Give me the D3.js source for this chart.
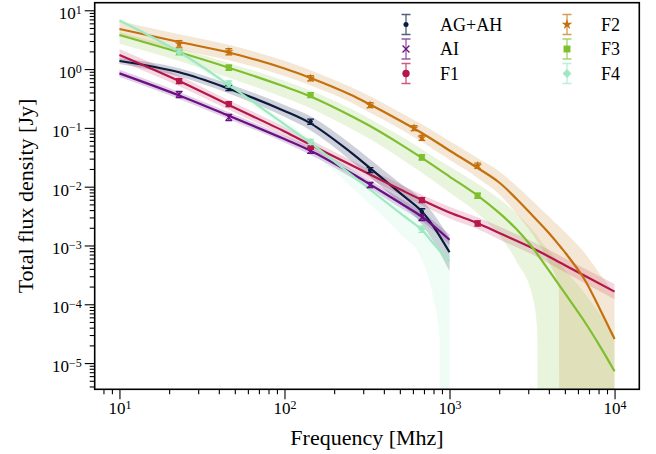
<!DOCTYPE html>
<html><head><meta charset="utf-8">
<script src="https://cdn.jsdelivr.net/npm/d3@7"></script>
<style>body{margin:0;background:#fff}svg{display:block}</style>
</head><body>
<svg id="c" width="656" height="454"></svg>
<script>
// ---------- data (frequency in MHz, flux density in Jy) ----------
const seriesNames  = ["AG+AH","AI","F1","F2","F3","F4"];
const seriesColors = ["#0c1a40","#6a0f84","#b5164b","#c4700c","#7dbf2e","#9deac2"];

// fitted model lines (+ confidence band half-widths in dex)
const lineFreqAGAH = [10,23,46,100,144,250,330,500,680,800,1000];
const lineFluxAGAH = [1.373,0.882,0.464,0.1945,0.1193,0.0392,0.0207,0.00782,0.00380,0.00209,0.000766];
const bandUpAGAH   = [0.05,0.07,0.08,0.10,0.12,0.14,0.15,0.17,0.20,0.22,0.24];
const bandDownAGAH = [0.05,0.07,0.08,0.10,0.12,0.14,0.15,0.17,0.22,0.26,0.32];

const lineFreqAI = [10,23,46,100,144,250,330,500,680,1000];
const lineFluxAI = [0.845,0.356,0.1607,0.0646,0.0408,0.0174,0.01094,0.00532,0.00309,0.00125];
const bandUpAI   = [0.06,0.06,0.06,0.06,0.07,0.07,0.07,0.08,0.08,0.09];
const bandDownAI = [0.06,0.06,0.06,0.06,0.07,0.07,0.07,0.08,0.08,0.09];

const lineFreqF1 = [10,23,46,100,144,250,330,500,680,1000,1480,2000,3200,5100,10000];
const lineFluxF1 = [1.74,0.628,0.245,0.0871,0.0516,0.0239,0.0161,0.00904,0.00594,0.00363,0.00239,0.00163,0.000895,0.000448,0.000164];
const bandUpF1   = [0.10,0.09,0.08,0.08,0.08,0.08,0.08,0.09,0.09,0.10,0.10,0.11,0.11,0.12,0.13];
const bandDownF1 = [0.10,0.09,0.08,0.08,0.08,0.08,0.08,0.09,0.09,0.10,0.10,0.11,0.11,0.12,0.13];

const lineFreqF2 = [10,23,46,100,144,250,330,500,680,1000,1480,2000,2550,3200,4000,4600,4700,5100,6500,8200,10000];
const lineFluxF2 = [4.81,2.89,1.915,1.024,0.706,0.370,0.250,0.1337,0.0818,0.0413,0.0208,0.01178,0.00618,0.00318,0.00163,0.001023,0.000950,0.000716,0.000280,8.0e-5,2.57e-5];
const bandUpF2   = [0.13,0.13,0.13,0.13,0.13,0.13,0.14,0.14,0.15,0.16,0.17,0.19,0.22,0.25,0.28,0.32,0.33,0.35,0.45,0.6,0.78];
const bandDownF2 = [0.13,0.13,0.13,0.13,0.13,0.13,0.14,0.14,0.15,0.16,0.17,0.20,0.25,0.32,0.5,0.75,9,9,9,9,9];

const lineFreqF3 = [10,23,46,100,144,250,330,500,680,1000,1480,2000,2550,3200,3400,3480,4000,5100,6500,8200,10000];
const lineFluxF3 = [3.80,1.931,1.056,0.504,0.342,0.163,0.1074,0.0535,0.0308,0.01486,0.00706,0.00358,0.00188,0.000904,0.000716,0.000653,0.000376,0.000143,5.35e-5,1.89e-5,7.28e-6];
const bandUpF3   = [0.05,0.07,0.08,0.10,0.10,0.12,0.12,0.14,0.15,0.17,0.20,0.24,0.27,0.30,0.31,0.31,0.34,0.40,0.48,0.55,0.62];
const bandDownF3 = [0.15,0.15,0.17,0.19,0.20,0.22,0.22,0.24,0.25,0.27,0.30,0.38,0.55,0.85,1.3,9,9,9,9,9,9];

const lineFreqF4 = [10,23,46,100,144,250,330,500,680,800,870,900,1000];
const lineFluxF4 = [6.7,1.95,0.537,0.115,0.0558,0.0165,0.00893,0.00357,0.00184,0.00107,0.000826,0.000743,0.000537];
const bandUpF4   = [0.04,0.04,0.05,0.06,0.07,0.09,0.10,0.13,0.17,0.20,0.22,0.23,0.27];
const bandDownF4 = [0.04,0.05,0.07,0.09,0.14,0.20,0.25,0.35,0.50,0.95,1.5,9,9];

// measured points with relative errors
const ptFreqAGAH = [46,144,330,680];
const ptFluxAGAH = [0.48,0.128,0.0192,0.00376];
const ptErrAGAH  = [0.10,0.10,0.10,0.12];
const ptFreqAI = [23,46,144,330,680];
const ptFluxAI = [0.372,0.151,0.041,0.0107,0.0030];
const ptErrAI  = [0.12,0.12,0.10,0.10,0.12];
const ptFreqF1 = [23,46,144,680,1480];
const ptFluxF1 = [0.628,0.255,0.0478,0.00594,0.00238];
const ptErrF1  = [0.10,0.10,0.10,0.10,0.10];
const ptFreqF2 = [23,46,144,330,610,680,1480];
const ptFluxF2 = [2.67,1.98,0.70,0.245,0.0996,0.068,0.0228];
const ptErrF2  = [0.14,0.12,0.10,0.10,0.10,0.10,0.10];
const ptFreqF3 = [23,46,144,680,1480];
const ptFluxF3 = [1.9,1.06,0.363,0.0316,0.00703];
const ptErrF3  = [0.10,0.10,0.10,0.10,0.10];
const ptFreqF4 = [23,46,144,680];
const ptFluxF4 = [1.95,0.56,0.058,0.0019];
const ptErrF4  = [0.12,0.12,0.10,0.12];

const xMajorTicks = [10,100,1000,10000];
const yMajorTicks = [1e-5,1e-4,1e-3,1e-2,1e-1,1,10];
const xLabel = "Frequency [Mhz]";
const yLabel = "Total flux density [Jy]";

// ---------- build ----------
const markers = ["dot","x","circle","star","square","diamond"];
const series = [
  {lf:lineFreqAGAH, ls:lineFluxAGAH, bu:bandUpAGAH, bd:bandDownAGAH, pf:ptFreqAGAH, ps:ptFluxAGAH, pe:ptErrAGAH, op:0.2},
  {lf:lineFreqAI, ls:lineFluxAI, bu:bandUpAI, bd:bandDownAI, pf:ptFreqAI, ps:ptFluxAI, pe:ptErrAI, op:0.2},
  {lf:lineFreqF1, ls:lineFluxF1, bu:bandUpF1, bd:bandDownF1, pf:ptFreqF1, ps:ptFluxF1, pe:ptErrF1, op:0.17},
  {lf:lineFreqF2, ls:lineFluxF2, bu:bandUpF2, bd:bandDownF2, pf:ptFreqF2, ps:ptFluxF2, pe:ptErrF2, op:0.17},
  {lf:lineFreqF3, ls:lineFluxF3, bu:bandUpF3, bd:bandDownF3, pf:ptFreqF3, ps:ptFluxF3, pe:ptErrF3, op:0.17},
  {lf:lineFreqF4, ls:lineFluxF4, bu:bandUpF4, bd:bandDownF4, pf:ptFreqF4, ps:ptFluxF4, pe:ptErrF4, op:0.15}
].map((s,i)=>Object.assign(s,{name:seriesNames[i], color:seriesColors[i], marker:markers[i]}));

const L=94.7, R=639.3, T=2.7, B=389.3;
const x = d3.scaleLog().domain([Math.pow(10,0.85), Math.pow(10,4.15)]).range([L,R]);
const y = d3.scaleLog().domain([Math.pow(10,-5.446), Math.pow(10,1.129)]).range([B,T]);

const svg = d3.select("#c");
const FONT = "'Liberation Serif','DejaVu Serif',serif";

svg.append("defs").append("clipPath").attr("id","clip")
  .append("rect").attr("x",L).attr("y",T).attr("width",R-L).attr("height",B-T);
const plot = svg.append("g").attr("clip-path","url(#clip)");

const area = d3.area().x(d=>x(d.f)).y0(d=>y(d.lo)).y1(d=>y(d.hi)).curve(d3.curveMonotoneX);
const line = d3.line().x(d=>x(d.f)).y(d=>y(d.s)).curve(d3.curveCatmullRom.alpha(0.5));

series.forEach(s=>{
  const pts = s.lf.map((f,i)=>({f, s:s.ls[i], hi:s.ls[i]*Math.pow(10,s.bu[i]), lo:s.ls[i]*Math.pow(10,-s.bd[i])}));
  s.pts = pts;
  plot.append("path").attr("d",area(pts)).attr("fill",s.color).attr("fill-opacity",s.op).attr("stroke","none");
});
series.forEach(s=>{
  plot.append("path").attr("d",line(s.pts)).attr("fill","none").attr("stroke",s.color).attr("stroke-width",2.2);
});

function drawMarker(g, type, color, cx, cy, k){
  k = k||1;
  if(type==="dot") g.append("circle").attr("cx",cx).attr("cy",cy).attr("r",2.2*k).attr("fill",color);
  else if(type==="circle") g.append("circle").attr("cx",cx).attr("cy",cy).attr("r",3.2*k).attr("fill",color);
  else if(type==="x"){ const a=3*k; g.append("path").attr("d",`M${cx-a},${cy-a}L${cx+a},${cy+a}M${cx-a},${cy+a}L${cx+a},${cy-a}`).attr("stroke",color).attr("stroke-width",1.3).attr("fill","none"); }
  else if(type==="star") g.append("path").attr("d",d3.symbol().type(d3.symbolStar).size(26*k*k)()).attr("transform",`translate(${cx},${cy})`).attr("fill",color);
  else if(type==="square") g.append("path").attr("d",d3.symbol().type(d3.symbolSquare).size(36*k*k)()).attr("transform",`translate(${cx},${cy})`).attr("fill",color);
  else if(type==="diamond") g.append("path").attr("d",d3.symbol().type(d3.symbolSquare).size(30*k*k)()).attr("transform",`translate(${cx},${cy}) rotate(45)`).attr("fill",color);
}
function errBar(g, color, cx, y1, y2, cap, op){
  g.append("path").attr("d",`M${cx},${y1}L${cx},${y2}M${cx-cap},${y1}L${cx+cap},${y1}M${cx-cap},${y2}L${cx+cap},${y2}`)
   .attr("stroke",color).attr("stroke-width",1.3).attr("fill","none").attr("stroke-opacity",op);
}
series.forEach(s=>{
  const g = plot.append("g");
  s.pf.forEach((f,i)=>{
    const v=s.ps[i], e=s.pe[i];
    errBar(g, s.color, x(f), y(v*(1+e)), y(v*(1-e)), 3.4, 1);
    drawMarker(g, s.marker, s.color, x(f), y(v));
  });
});

// ---------- axes ----------
function minorTicks(dom){
  const out=[]; const lo=Math.floor(Math.log10(dom[0])), hi=Math.ceil(Math.log10(dom[1]));
  for(let k=lo;k<=hi;k++) for(let m=2;m<=9;m++){const v=m*Math.pow(10,k); if(v>=dom[0]&&v<=dom[1]) out.push(v);}
  return out;
}
function supLabels(sel){
  sel.selectAll(".tick text").each(function(d){
    const t=d3.select(this); const e=Math.round(Math.log10(d));
    t.text(null);
    t.append("tspan").text("10");
    t.append("tspan").attr("dy","-0.45em").attr("font-size","12px").text(e<0?"\u2212"+(-e):String(e));
  });
}
const gxMin = svg.append("g").attr("transform",`translate(0,${B})`)
  .call(d3.axisBottom(x).tickValues(minorTicks(x.domain())).tickSize(5).tickFormat(""));
const gx = svg.append("g").attr("transform",`translate(0,${B})`)
  .call(d3.axisBottom(x).tickValues(xMajorTicks).tickSize(10).tickPadding(3));
const gyMin = svg.append("g").attr("transform",`translate(${L},0)`)
  .call(d3.axisLeft(y).tickValues(minorTicks(y.domain())).tickSize(5).tickFormat(""));
const gy = svg.append("g").attr("transform",`translate(${L},0)`)
  .call(d3.axisLeft(y).tickValues(yMajorTicks).tickSize(10).tickPadding(3));
[gxMin,gx,gyMin,gy].forEach(g=>{ g.select(".domain").remove(); g.selectAll("line").attr("stroke","#000").attr("stroke-width",1.1); });
[gx,gy].forEach(g=>{ g.selectAll("text").attr("font-family",FONT).attr("font-size","17px").attr("fill","#000"); supLabels(g); });
gy.selectAll(".tick text").attr("dy","0.5em");

svg.append("rect").attr("x",L).attr("y",T).attr("width",R-L).attr("height",B-T)
  .attr("fill","none").attr("stroke","#000").attr("stroke-width",1.6);

svg.append("text").attr("x",(L+R)/2).attr("y",445).attr("text-anchor","middle")
  .attr("font-family",FONT).attr("font-size","22px").text(xLabel);
svg.append("text").attr("transform",`translate(33,${(T+B)/2}) rotate(-90)`).attr("text-anchor","middle")
  .attr("font-family",FONT).attr("font-size","22px").text(yLabel);

// ---------- legend ----------
const legCols=[406,567], legRows=[24.5,49,73.5];
series.forEach((s,i)=>{
  const cx=legCols[Math.floor(i/3)], cy=legRows[i%3];
  const g=svg.append("g");
  errBar(g, s.color, cx, cy-10, cy+10, 4.5, 0.7);
  drawMarker(g, s.marker, s.color, cx, cy, 1.15);
  g.append("text").attr("x",cx+34).attr("y",cy).attr("dy","0.35em")
   .attr("font-family",FONT).attr("font-size","18px").text(s.name);
});
</script>
</body></html>
